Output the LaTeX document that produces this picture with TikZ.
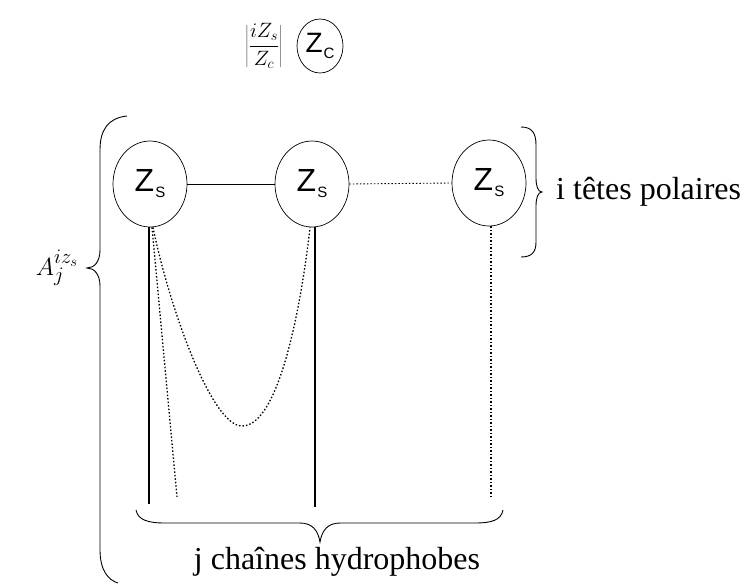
\documentclass[tikz,border=0pt]{standalone}
\usepackage{fontspec}
\setmainfont{Liberation Serif}
\newfontfamily\arialf{Liberation Sans}
\usetikzlibrary{shapes.geometric}
\tikzset{
  head/.style={draw, ellipse, line width=0.7pt, minimum width=74pt, minimum height=86pt, inner sep=0pt, font=\arialf\fontsize{32}{34}\selectfont},
  solidline/.style={line width=1.2pt},
  dotline/.style={line width=1.3pt, dash pattern=on 1.5pt off 2pt},
  bracestyle/.style={line width=0.9pt},
  lbl/.style={font=\fontsize{32}{34}\selectfont}
}
\newcommand{\zsub}[1]{Z\kern1pt\raisebox{-6pt}{\fontsize{15}{15}\selectfont #1}}
\begin{document}
\begin{tikzpicture}[x=1pt,y=-1pt]
\useasboundingbox (0,0) rectangle (754,584);
% top
\node[inner sep=0pt] (frac) at (264,46) {\fontsize{21}{23}\selectfont$\displaystyle\left|\frac{iZ_s}{Z_c}\right|$};
\node[head, minimum width=46pt, minimum height=54pt, font=\arialf\fontsize{28}{30}\selectfont] (c) at (320,46) {\zsub{C}};
% heads
\node[head] (s1) at (150,184) {\zsub{S}};
\node[head] (s2) at (312,184) {\zsub{S}};
\node[head] (s3) at (489,183) {\zsub{S}};
\draw[solidline, line width=0.8pt] (s1.east) -- (s2.west);
\draw[dotline, line width=0.9pt] (s2.east) -- (s3.west);
% chains
\coordinate (b1) at (149,504);
\coordinate (b1d) at (177,497);
\coordinate (b2) at (315,507);
\coordinate (b3) at (491,499);
\draw[solidline] (s1.south -| b1) -- (b1);
\draw[dotline] ([xshift=2pt]s1.south) -- (b1d);
\draw[solidline] (s2.south -| b2) -- (b2);
\draw[dotline] (s3.south -| b3) -- (b3);
\draw[dotline] ([xshift=3pt]s1.south) .. controls (170,310) and (212,426) .. (242,426)
  .. controls (280,426) and (302,300) .. ([xshift=-2pt]s2.south);
% braces
\draw[bracestyle] (127,116) .. controls (108,118) and (100,130) .. (100,150) -- (100,250)
  .. controls (100,262) and (94,268) .. (87,268) .. controls (94,268) and (100,274) .. (100,286)
  -- (100,550) .. controls (100,570) and (108,580) .. (118,583);
\draw[bracestyle] (521,127) .. controls (532,127) and (536,133) .. (536,145) -- (536,178)
  .. controls (536,186) and (538,192) .. (542,192) .. controls (538,192) and (536,198) .. (536,206)
  -- (536,242) .. controls (536,252) and (532,257) .. (521,257);
\draw[bracestyle] (136,510) .. controls (138,520) and (148,523) .. (165,523) -- (300,523)
  .. controls (312,523) and (318,530) .. (320,542) .. controls (322,530) and (328,523) .. (340,523)
  -- (475,523) .. controls (492,523) and (501,520) .. (503,510);
% labels
\node[font=\fontsize{28}{30}\selectfont] (A) at (57,268) {$A_j^{iz_s}$};
\node[lbl, anchor=west, inner sep=0pt] (tp) at (556,192) {i têtes polaires};
\node[lbl] (ch) at (337,562) {j chaînes hydrophobes};
\end{tikzpicture}
\end{document}
